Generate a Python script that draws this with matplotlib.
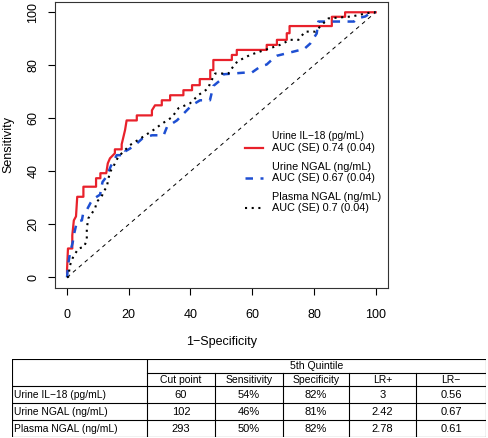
import matplotlib
matplotlib.use("Agg")
import matplotlib.pyplot as plt

plt.rcParams['font.family'] = ['Liberation Sans', 'DejaVu Sans']

# ROC curves (1-specificity, sensitivity), in %
il18_fpr = [0, 0, 0.3, 1.7, 1.7, 2.2, 2.9, 3.3, 5.3, 5.3, 9.4, 9.4, 10.8, 10.8, 12.7, 13.2, 13.9,
            15.5, 15.5, 17.7, 17.7, 18.8, 19.3, 22.6, 22.6, 27.5, 27.5, 28.5, 30.7, 30.7, 33.4,
            33.4, 37.7, 37.7, 40.5, 40.5, 43, 43, 46.4, 46.4, 47.4, 47.4, 53.4, 53.4, 55, 55,
            64.7, 64.7, 68, 68, 71.2, 71.2, 72.1, 72.1, 85.8, 85.8, 90.1, 90.1, 100]
il18_tpr = [1.8, 3, 10.9, 10.9, 15.9, 21.5, 23, 30.4, 30.4, 34.2, 34.2, 37.4, 37.4, 39.3, 39.3, 43,
            44.9, 46.8, 48.3, 48.3, 50.2, 55.6, 59.2, 59.2, 61.1, 61.1, 63, 64.9, 64.9, 66.8, 66.8,
            68.7, 68.7, 70.6, 70.6, 72.5, 72.5, 74.8, 74.8, 78.2, 78.2, 82, 82, 83.9, 83.9, 85.8,
            85.8, 87.7, 87.7, 89.6, 89.6, 92.1, 92.1, 94.8, 94.8, 98.3, 98.3, 100, 100]

ungal_fpr = [0, 0.3, 1.0, 1.8, 2.4, 3.2, 4.8, 5.2, 6.2, 7.7, 8.4, 10.7, 11.5, 12.8, 14.2, 16.1,
             18.8, 18.8, 20.4, 22.6, 24.5, 27.5, 31.3, 32.4, 35.6, 37.2, 40.4, 43.1, 46.3, 47.4,
             50.1, 50.6, 57.1, 59.8, 62.6, 64.7, 67.4, 68, 75.6, 76.5, 78.8, 80.9, 81.4, 93,
             94, 96.6, 98.7, 100]
ungal_tpr = [0, 4.4, 9.5, 13, 17, 21, 21.5, 24, 25, 28.3, 29.5, 31.2, 36, 38, 42, 46.1, 46.1,
             47.5, 48.6, 50.5, 52.5, 53.6, 53.6, 56.8, 59.2, 61.1, 64.9, 66.8, 66.8, 72.2, 74.8,
             76.6, 77.2, 77.2, 79.5, 80.3, 83.2, 83.6, 85.8, 85.8, 88.2, 92, 96.5, 96.5, 97.7,
             98.4, 100, 100]

pngal_fpr = [0, 0.4, 0.97, 2.0, 3.7, 5.5, 6.4, 6.4, 6.9, 8.0, 9.1, 9.6, 11.2, 11.8, 12.9, 13.4,
             14.0, 15.0, 16.6, 20.4, 24.7, 28.0, 30.8, 34.0, 36.1, 39.9, 42.6, 45.8, 46.3, 48.0,
             52.3, 54.5, 56.1, 59.3, 69.0, 72.3, 75.0, 77.1, 80.4, 82.5, 84.7, 92.2, 98.7, 100]
pngal_tpr = [0, 0.2, 4.6, 7.8, 10.9, 11.5, 14.1, 18.5, 22.3, 24.1, 26.0, 28.5, 30.4, 32.3, 34.2,
             37.3, 39.9, 41.8, 45.5, 49.9, 53.1, 55.6, 58.0, 60.4, 63.8, 65.7, 68.8, 71.3, 73.2,
             76.9, 76.9, 80.7, 82.0, 83.9, 87.7, 89.6, 89.6, 92.7, 92.7, 95.2, 97.7, 98.4, 100, 100]

legend_names = ["Urine IL\u221218 (pg/mL)", "Urine NGAL (ng/mL)", "Plasma NGAL (ng/mL)"]
auc = ["0.74", "0.67", "0.7"]
se = ["0.04", "0.04", "0.04"]

# table
table_group = "5th Quintile"
table_cols = ["Cut point", "Sensitivity", "Specificity", "LR+", "LR\u2212"]
table_rows = ["Urine IL\u221218 (pg/mL)", "Urine NGAL (ng/mL)", "Plasma NGAL (ng/mL)"]
cut_point = ["60", "102", "293"]
sens = ["54%", "46%", "50%"]
spec = ["82%", "81%", "82%"]
lr_pos = ["3", "2.42", "2.78"]
lr_neg = ["0.56", "0.67", "0.61"]

red = '#E8212B'
blue = '#1E4FD2'

fig = plt.figure(figsize=(4.88, 4.38), dpi=100)
ax = fig.add_axes([0.1121, 0.3425, 0.683, 0.6537])

ax.plot([0, 100], [0, 100], color='black', lw=0.7, dashes=(4, 4))
ax.plot(il18_fpr, il18_tpr, color=red, lw=1.6)
ax.plot(ungal_fpr, ungal_tpr, color=blue, lw=1.8, dashes=(3, 3))
ax.plot(pngal_fpr, pngal_tpr, color='black', lw=1.5, dashes=(1, 2.2))

ax.set_xlim(-4, 104)
ax.set_ylim(-4, 104)
ax.set_xticks([0, 20, 40, 60, 80, 100])
ax.set_yticks([0, 20, 40, 60, 80, 100])
ax.tick_params(direction='out', length=5, width=0.8, labelsize=9)
ax.tick_params(axis='x', pad=10)
ax.tick_params(axis='y', pad=6)
for lab in ax.get_yticklabels():
    lab.set_rotation(90)
    lab.set_va('center')
for s in ax.spines.values():
    s.set_linewidth(0.8)
    s.set_color('#333333')

ax.set_xlabel("1\u2212Specificity", fontsize=9)
ax.xaxis.set_label_coords(0.5, -0.19)
ax.xaxis.label.set_va('center')
ax.set_ylabel("Sensitivity", fontsize=9)
ax.yaxis.set_label_coords(-0.14, 0.5)
ax.yaxis.label.set_va('center')

# legend drawn by hand so the key sits on the AUC line
styles = [dict(color=red, lw=1.6), dict(color=blue, lw=1.8, dashes=(3, 3)),
          dict(color='black', lw=1.5, dashes=(1, 2.2))]
key_y = [0.4886, 0.3832, 0.2784]
for i in range(3):
    ax.plot([0.571, 0.626], [key_y[i], key_y[i]], transform=ax.transAxes, **styles[i])
    ax.text(0.651, key_y[i] + 0.041, legend_names[i], transform=ax.transAxes,
            fontsize=7.4 if i == 0 else 7.8, va='center', ha='left')
    ax.text(0.651, key_y[i], "AUC (SE) %s (%s)" % (auc[i], se[i]), transform=ax.transAxes,
            fontsize=7.8, va='center', ha='left')

# table, drawn in pixel-like units
tax = fig.add_axes([0.024, 0.0023, 0.972, 0.1774])
tax.set_xlim(0, 474.3)
tax.set_ylim(77.7, 0)
tax.axis('off')
col_x = [0, 135.3, 203.3, 271, 337.3, 404.3, 474.3]
row_y = [0, 13.4, 26.7, 43.7, 60.7, 77.7]
lk = dict(color='black', lw=0.8)
tax.plot([0, 474.3, 474.3, 0, 0], [0, 0, 77.7, 77.7, 0], **lk)
tax.plot([col_x[1], col_x[-1]], [row_y[1], row_y[1]], **lk)
for y in row_y[2:-1]:
    tax.plot([0, 474.3], [y, y], **lk)
tax.plot([col_x[1], col_x[1]], [0, 77.7], **lk)
for x in col_x[2:-1]:
    tax.plot([x, x], [row_y[1], 77.7], **lk)

tax.text((col_x[1] + col_x[-1]) / 2, row_y[1] / 2 + 0.5, table_group, fontsize=7.6,
         ha='center', va='center')
for j, c in enumerate(table_cols):
    tax.text((col_x[j + 1] + col_x[j + 2]) / 2, (row_y[1] + row_y[2]) / 2 + 0.5, c,
             fontsize=7.5, ha='center', va='center')
cols_data = [cut_point, sens, spec, lr_pos, lr_neg]
for i, r in enumerate(table_rows):
    yc = (row_y[i + 2] + row_y[i + 3]) / 2 + 0.5
    tax.text(2.5, yc, r, fontsize=7.4, ha='left', va='center')
    for j, vals in enumerate(cols_data):
        tax.text((col_x[j + 1] + col_x[j + 2]) / 2, yc, vals[i], fontsize=8.0,
                 ha='center', va='center')

fig.savefig("out.png", dpi=100)
